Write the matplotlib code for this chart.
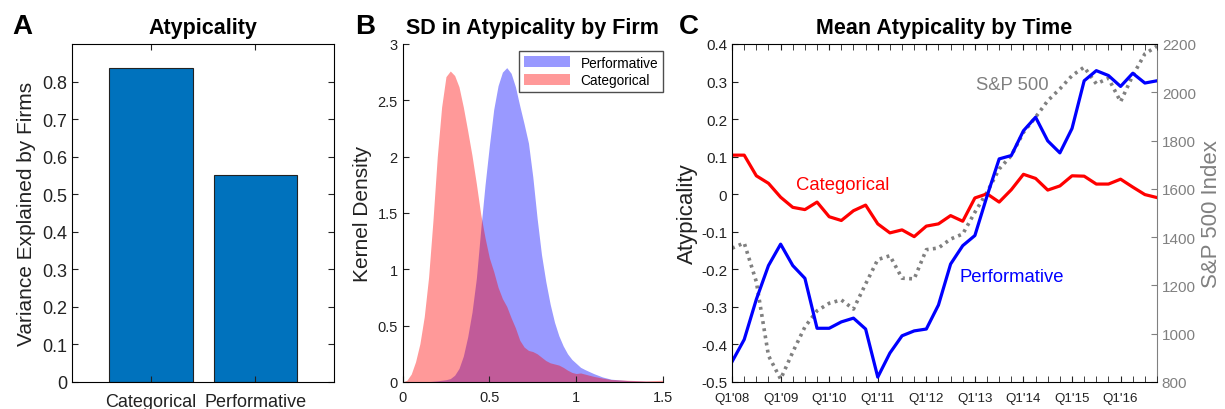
import numpy as np
import matplotlib.pyplot as plt
from matplotlib.ticker import FixedLocator, FuncFormatter

plt.rcParams['font.family'] = ['Liberation Sans', 'DejaVu Sans']

# Panel A: variance explained by firms
bar_cats = ["Categorical", "Performative"]
bar_vals = [0.835, 0.55]

# Panel B: kernel density of firm-level SD
kde_x_cat = [0, 0.025, 0.05, 0.075, 0.1, 0.125, 0.15, 0.175, 0.2, 0.225, 0.25, 0.275, 0.3,
             0.325, 0.35, 0.375, 0.4, 0.425, 0.45, 0.475, 0.5, 0.525, 0.55, 0.575, 0.6, 0.625,
             0.65, 0.675, 0.7, 0.725, 0.75, 0.775, 0.8, 0.825, 0.85, 0.875, 0.9, 0.925, 0.95,
             0.975, 1.0, 1.025, 1.05, 1.1, 1.15, 1.2, 1.3, 1.4, 1.5]
kde_y_cat = [0, 0.015, 0.07, 0.18, 0.34, 0.58, 0.93, 1.43, 2.0, 2.44, 2.71, 2.76, 2.72,
             2.62, 2.44, 2.23, 2.01, 1.76, 1.49, 1.28, 1.1, 0.98, 0.84, 0.74, 0.67, 0.57,
             0.48, 0.37, 0.31, 0.28, 0.27, 0.25, 0.22, 0.19, 0.17, 0.16, 0.15, 0.13, 0.105,
             0.085, 0.075, 0.08, 0.07, 0.05, 0.035, 0.022, 0.015, 0.01, 0.015]
kde_x_perf = [0, 0.1, 0.15, 0.2, 0.25, 0.275, 0.3, 0.325, 0.35, 0.375, 0.4, 0.425, 0.45,
              0.475, 0.5, 0.525, 0.55, 0.575, 0.6, 0.625, 0.65, 0.675, 0.7, 0.725, 0.75,
              0.775, 0.8, 0.825, 0.85, 0.875, 0.9, 0.925, 0.95, 0.975, 1.0, 1.025, 1.05,
              1.1, 1.15, 1.2, 1.3, 1.4, 1.5]
kde_y_perf = [0, 0, 0.003, 0.01, 0.02, 0.03, 0.06, 0.12, 0.23, 0.4, 0.62, 0.92, 1.35,
              1.75, 2.1, 2.42, 2.63, 2.75, 2.79, 2.74, 2.62, 2.45, 2.29, 2.12, 1.82,
              1.45, 1.13, 0.89, 0.69, 0.53, 0.41, 0.32, 0.25, 0.2, 0.165, 0.13, 0.11,
              0.075, 0.045, 0.025, 0.012, 0.006, 0.003]

# Panel C: quarterly means, Q1'08 .. Q4'16
quarter_labels = ["Q1'08", "Q1'09", "Q1'10", "Q1'11", "Q1'12", "Q1'13", "Q1'14", "Q1'15", "Q1'16"]
performative = [-0.446, -0.387, -0.28, -0.19, -0.133, -0.19, -0.224, -0.357, -0.357, -0.34,
                -0.33, -0.359, -0.487, -0.423, -0.377, -0.364, -0.359, -0.295, -0.186, -0.137,
                -0.11, -0.005, 0.094, 0.103, 0.169, 0.205, 0.142, 0.11, 0.175, 0.302,
                0.329, 0.316, 0.287, 0.322, 0.296, 0.302]
categorical = [0.104, 0.104, 0.049, 0.029, -0.008, -0.035, -0.041, -0.021, -0.06, -0.07,
               -0.044, -0.029, -0.079, -0.103, -0.095, -0.113, -0.085, -0.079, -0.057, -0.072,
               -0.01, 0.001, -0.021, 0.012, 0.053, 0.042, 0.011, 0.022, 0.049, 0.048,
               0.027, 0.027, 0.04, 0.019, -0.001, -0.009]
sp500 = [1354, 1376, 1215, 909, 812, 924, 1028, 1095, 1126, 1140,
         1102, 1206, 1307, 1323, 1230, 1227, 1348, 1355, 1392, 1413,
         1503, 1586, 1682, 1738, 1834, 1897, 1965, 2014, 2069, 2104,
         2035, 2058, 1961, 2069, 2159, 2191]

mblue = '#0072BD'
grey = (0.5, 0.5, 0.5)
ink = '#222222'

def num_fmt(v, p):
    return '0' if abs(v) < 1e-9 else f'{v:.1f}'

fig = plt.figure(figsize=(12.25, 4.1), dpi=100)

# ---- A
axA = fig.add_axes([0.0588, 0.0659, 0.2139, 0.8244])
xA = np.arange(1, len(bar_vals) + 1)
axA.bar(xA, bar_vals, width=0.8, color=mblue, edgecolor=ink, linewidth=0.8)
axA.set_xlim(0.25, 2.75)
axA.set_ylim(0, 0.9)
axA.set_yticks(np.arange(0, 0.81, 0.1))
axA.yaxis.set_major_formatter(FuncFormatter(num_fmt))
axA.set_xticks(xA)
axA.set_xticklabels(bar_cats)
axA.tick_params(direction='in', top=True, right=True, labelsize=13, length=4, colors=ink)
axA.tick_params(axis='x', pad=8)
axA.set_ylabel("Variance Explained by Firms", fontsize=15, color=ink)
axA.set_title("Atypicality", fontsize=15.5, fontweight='bold', pad=8)

# ---- B
axB = fig.add_axes([0.3286, 0.0659, 0.2127, 0.8244])
axB.fill_between(kde_x_perf, kde_y_perf, color=(0, 0, 1), alpha=0.4, linewidth=0, label='Performative')
axB.fill_between(kde_x_cat, kde_y_cat, color=(1, 0, 0), alpha=0.4, linewidth=0, label='Categorical')
axB.set_xlim(0, 1.5)
axB.set_ylim(0, 3)
axB.set_xticks([0, 0.5, 1, 1.5])
axB.set_xticklabels(['0', '0.5', '1', '1.5'])
axB.set_yticks([0, 0.5, 1, 1.5, 2, 2.5, 3])
axB.set_yticklabels(['0', '0.5', '1', '1.5', '2', '2.5', '3'])
axB.spines['top'].set_visible(False)
axB.spines['right'].set_visible(False)
axB.tick_params(direction='in', labelsize=10.5, length=4, colors=ink)
axB.tick_params(axis='x', pad=6)
axB.set_ylabel("Kernel Density", fontsize=15, color=ink)
axB.set_title("SD in Atypicality by Firm", fontsize=15.5, fontweight='bold', pad=8)
leg = axB.legend(loc='upper right', fontsize=9.8, frameon=True, fancybox=False,
                 borderaxespad=0, handlelength=3.4, handleheight=0.9, borderpad=0.35,
                 labelspacing=0.25, bbox_to_anchor=(1.0, 0.98))
leg.get_frame().set_edgecolor(ink)
leg.get_frame().set_linewidth(1.0)

# ---- C
axC = fig.add_axes([0.5976, 0.0659, 0.3469, 0.8244])
xq = np.arange(len(performative))
axR = axC.twinx()
axR.plot(xq, sp500, color=grey, linestyle=(0, (0.8, 1.2)), linewidth=2.6)
axR.set_ylim(800, 2200)
axR.set_yticks(np.arange(800, 2201, 200))
axR.tick_params(direction='in', colors=grey, labelsize=11, length=4)
axR.spines['right'].set_color(grey)
axR.set_ylabel("S&P 500 Index", fontsize=16, color=grey)
for s in ['left', 'top', 'bottom']:
    axR.spines[s].set_visible(False)

axC.set_zorder(axR.get_zorder() + 1)
axC.patch.set_visible(False)
axC.plot(xq, categorical, color='red', linewidth=2.3)
axC.plot(xq, performative, color='blue', linewidth=2.3)
axC.set_xlim(0, len(performative) - 1)
axC.set_ylim(-0.5, 0.4)
axC.set_yticks(np.arange(-0.5, 0.41, 0.1))
axC.yaxis.set_major_formatter(FuncFormatter(num_fmt))
axC.set_xticks(np.arange(0, 33, 4))
axC.set_xticklabels(quarter_labels)
axC.xaxis.set_minor_locator(FixedLocator(xq))
axC.tick_params(axis='x', which='both', direction='in', top=True, length=4,
                labelsize=9.6, colors=ink, pad=7)
axC.tick_params(axis='y', direction='in', length=4, labelsize=11, colors=ink)
axC.spines['right'].set_visible(False)
axC.set_ylabel("Atypicality", fontsize=16, color=ink, labelpad=2)
axC.set_title("Mean Atypicality by Time", fontsize=15.5, fontweight='bold', pad=8)
axC.text(9.1, 0.027, "Categorical", color='red', fontsize=13.3, ha='center', va='center')
axC.text(23.0, -0.22, "Performative", color='blue', fontsize=13.3, ha='center', va='center')
axC.text(23.1, 0.293, "S&P 500", color=grey, fontsize=13.3, ha='center', va='center')

for lab, xp in [("A", 12), ("B", 355), ("C", 679)]:
    fig.text(xp / 1225, 1 - 27 / 410, lab, fontsize=20, fontweight='bold', va='center', ha='left')

fig.savefig("out.png", dpi=100)
